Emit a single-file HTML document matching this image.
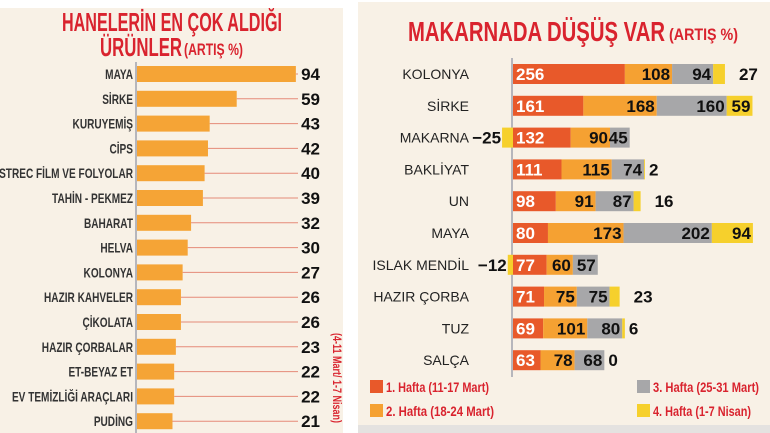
<!DOCTYPE html>
<html><head><meta charset="utf-8">
<style>
html,body{margin:0;padding:0;background:#fff;}
svg{display:block;font-family:"Liberation Sans","DejaVu Sans",sans-serif;}
</style></head>
<body>
<svg id="c" width="770" height="433" viewBox="0 0 770 433" xmlns="http://www.w3.org/2000/svg">
<rect x="0" y="8" width="343" height="425" fill="#f8f1e6"/>
<rect x="358" y="2" width="412" height="423" fill="#f8f1e6"/>
<rect x="358" y="425" width="412" height="8" fill="#e4e2e0"/>
<text x="172" y="31" text-anchor="middle" font-size="26" font-weight="bold" fill="#d9232e" textLength="220" lengthAdjust="spacingAndGlyphs">HANELERİN EN ÇOK ALDIĞI</text>
<text x="100" y="56" font-size="26" font-weight="bold" fill="#d9232e" textLength="82" lengthAdjust="spacingAndGlyphs">ÜRÜNLER</text>
<text x="184" y="55" font-size="17" font-weight="bold" fill="#d9232e" textLength="59" lengthAdjust="spacingAndGlyphs">(ARTIŞ %)</text>
<text x="408" y="41" font-size="28" font-weight="bold" fill="#d9232e" textLength="257" lengthAdjust="spacingAndGlyphs">MAKARNADA DÜŞÜŞ VAR</text>
<text x="669" y="40" font-size="17" font-weight="bold" fill="#d9232e" textLength="69" lengthAdjust="spacingAndGlyphs">(ARTIŞ %)</text>
<line x1="136" y1="62" x2="136" y2="433" stroke="#8a8fa0" stroke-width="1.2"/>
<line x1="512" y1="58" x2="512" y2="377" stroke="#8a8fa0" stroke-width="1.2"/>
<text transform="translate(333,378) rotate(90)" font-size="12" font-weight="bold" fill="#d9232e" text-anchor="middle" textLength="90" lengthAdjust="spacingAndGlyphs">(4-11 Mart/ 1-7 Nisan)</text>
<g id="left"></g>
<g id="right"></g>
<g id="legend"></g>
</svg>
<script>
const leftCats=["MAYA","SİRKE","KURUYEMİŞ","CİPS","STREC FİLM VE FOLYOLAR","TAHİN - PEKMEZ","BAHARAT","HELVA","KOLONYA","HAZIR KAHVELER","ÇİKOLATA","HAZIR ÇORBALAR","ET-BEYAZ ET","EV TEMİZLİĞİ ARAÇLARI","PUDİNG"];
const leftVals=[94,59,43,42,40,39,32,30,27,26,26,23,22,22,21];
const rightCats=["KOLONYA","SİRKE","MAKARNA","BAKLİYAT","UN","MAYA","ISLAK MENDİL","HAZIR ÇORBA","TUZ","SALÇA"];
const week1=[256,161,132,111,98,80,77,71,69,63];
const week2=[108,168,90,115,91,173,60,75,101,78];
const week3=[94,160,45,74,87,202,57,75,80,68];
const week4=[27,59,-25,2,16,94,-12,23,6,0];
const legendLabels=["1. Hafta (11-17 Mart)","2. Hafta (18-24 Mart)","3. Hafta (25-31 Mart)","4. Hafta (1-7 Nisan)"];
const NS="http://www.w3.org/2000/svg";
function mk(tag,attrs,parent,txt){const e=document.createElementNS(NS,tag);for(const k in attrs)e.setAttribute(k,attrs[k]);if(txt!==undefined)e.textContent=txt;parent.appendChild(e);return e;}
// left chart
const L=document.getElementById('left');
const lx=v=>137+v*1.69;
const ly=i=>74+i*24.8;
leftCats.forEach((c,i)=>{
  const y=ly(i),v=leftVals[i];
  const ln=mk('line',{x1:lx(v),y1:y,x2:298,y2:y,stroke:'#e58a78','stroke-width':1},L);
  
  
  const b=mk('rect',{x:137,y:y-8,width:lx(v)-137,height:16,fill:'#f5a436'},L);
  
  
  const t=mk('text',{x:133,y:y+5,'text-anchor':'end','font-size':14,'font-weight':'bold',fill:'#333',transform:`translate(133,0) scale(0.72,1) translate(-133,0)`},L,c);
  
  
  const vt=mk('text',{x:320,y:y+6,'text-anchor':'end','font-size':17,'font-weight':'bold',fill:'#111'},L,String(v));
  
  
});
// right chart
const R=document.getElementById('right');
const k=0.437;
const rx=v=>513+v*k;
const ry=i=>74+i*31.8;
const cols=['#e8592a','#f5a132','#a7a7a9','#f6d02c'];
rightCats.forEach((c,i)=>{
  const y=ry(i);
  const t=mk('text',{x:469,y:y+5,'text-anchor':'end','font-size':14,fill:'#222'},R,c);
  
  
  const vals=[week1[i],week2[i],week3[i],week4[i]];
  let acc=0;
  for(let s=0;s<4;s++){
    const v=vals[s];
    if(v<0){
      const b=mk('rect',{x:rx(v),y:y-10,width:-v*k,height:20,fill:cols[s]},R);
      
      
      const lt=mk('text',{x:rx(v)-1,y:y+6,'text-anchor':'end','font-size':17,'font-weight':'bold',fill:'#111'},R,'−'+(-v));
      
      
      continue;
    }
    const x0=rx(acc),x1=rx(acc+v);
    const b=mk('rect',{x:x0,y:y-10,width:x1-x0,height:20,fill:cols[s]},R);
    
    
    let lt;
    if(s===0){
      lt=mk('text',{x:x0+3,y:y+6,'font-size':17,'font-weight':'bold',fill:'#fff'},R,String(v));
    }else if(s===3){
      lt=mk('text',{x:x1+(v>40?-2:(v>10?14:4)),y:y+6,'text-anchor':v>40?'end':'start','font-size':17,'font-weight':'bold',fill:'#111'},R,String(v));
    }else{
      lt=mk('text',{x:x1-2,y:y+6,'text-anchor':'end','font-size':17,'font-weight':'bold',fill:'#111'},R,String(v));
    }
    
    
    acc+=v;
  }
});
// legend
const G=document.getElementById('legend');
const lpos=[[370,387],[370,411],[637,387],[637,411]];
const lens=[103,108,106,98];
legendLabels.forEach((l,i)=>{
  const [x,y]=lpos[i];
  const sw=mk('rect',{x:x,y:y-7,width:13,height:13,fill:cols[i]},G);
  
  
  const t=mk('text',{x:x+16,y:y+5,'font-size':14,'font-weight':'bold',fill:'#d9232e',textLength:lens[i],lengthAdjust:'spacingAndGlyphs'},G,l);
  
  
});
</script>
</body></html>
